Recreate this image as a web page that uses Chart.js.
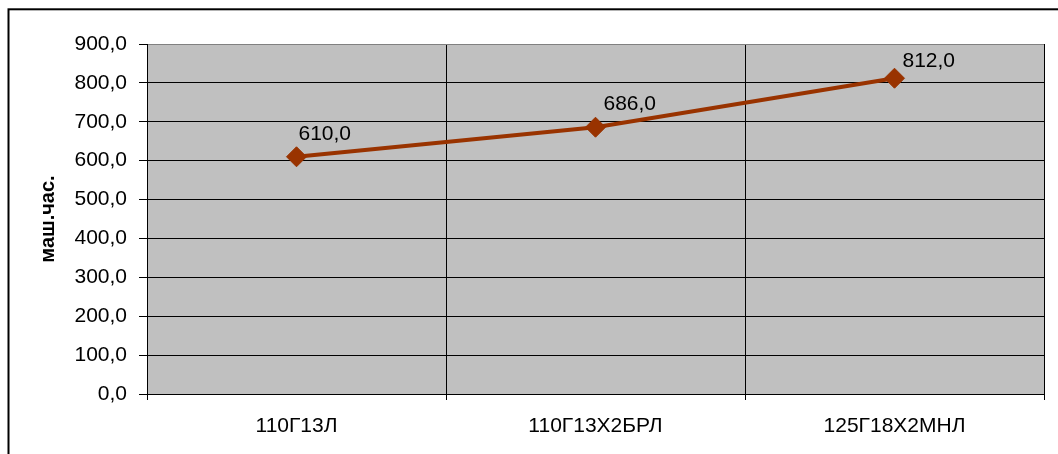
<!DOCTYPE html>
<html>
<head>
<meta charset="utf-8">
<script src="https://cdn.jsdelivr.net/npm/chart.js@4/dist/chart.umd.min.js"></script>
<style>
  html, body { margin: 0; padding: 0; background: #ffffff; }
  #wrap { width: 1058px; height: 454px; position: relative; }
</style>
</head>
<body>
<div id="wrap"><canvas id="c" width="1058" height="454"></canvas></div>
<script>
// Machine-hours per steel grade
const categories = ['110Г13Л', '110Г13Х2БРЛ', '125Г18Х2МНЛ'];
const hours = [610.0, 686.0, 812.0];
const yTicks = [0, 100, 200, 300, 400, 500, 600, 700, 800, 900];
const yTitle = 'маш.час.';

const FONT = '"Liberation Sans", Arial, sans-serif';
const fmt = v => Number(v).toFixed(1).replace('.', ',');

// Grey plot area and the outer frame
const backdrop = {
  id: 'backdrop',
  beforeDraw(chart) {
    const { ctx, chartArea: a } = chart;
    ctx.save();
    ctx.fillStyle = '#ffffff';
    ctx.fillRect(0, 0, chart.width, chart.height);
    ctx.fillStyle = '#c0c0c0';
    ctx.fillRect(a.left, a.top, a.right - a.left, a.bottom - a.top);
    ctx.strokeStyle = '#000000';
    ctx.lineWidth = 2;
    ctx.strokeRect(8.5, 9.3, chart.width + 20, chart.height + 20);
    ctx.restore();
  }
};

// Value labels next to each marker
const valueLabels = {
  id: 'valueLabels',
  afterDatasetsDraw(chart, args, opts) {
    const { ctx } = chart;
    const meta = chart.getDatasetMeta(0);
    ctx.save();
    ctx.font = '21px ' + FONT;
    ctx.fillStyle = '#000000';
    ctx.textAlign = 'left';
    ctx.textBaseline = 'middle';
    meta.data.forEach((pt, i) => {
      const off = opts.offsets[i] || [6, -20];
      ctx.fillText(fmt(chart.data.datasets[0].data[i]), pt.x + off[0], pt.y + off[1]);
    });
    ctx.restore();
  }
};

new Chart(document.getElementById('c'), {
  type: 'line',
  data: {
    labels: categories,
    datasets: [{
      data: hours,
      borderColor: '#993300',
      backgroundColor: '#993300',
      borderWidth: 4,
      pointStyle: 'rectRot',
      pointRadius: 10,
      pointHoverRadius: 10,
      pointBorderWidth: 1,
      pointBackgroundColor: '#993300',
      pointBorderColor: '#993300',
      tension: 0,
      fill: false
    }]
  },
  options: {
    responsive: false,
    animation: false,
    events: [],
    layout: { padding: { left: 0, right: 14, top: 44, bottom: 0 } },
    plugins: {
      legend: { display: false },
      tooltip: { enabled: false },
      valueLabels: { offsets: [[2, -23], [8, -23], [8, -17]] }
    },
    scales: {
      x: {
        type: 'category',
        offset: true,
        grid: {
          offset: true,
          drawOnChartArea: true,
          color: ctx => (ctx.index === categories.length ? '#808080' : '#000000'),
          tickColor: '#000000',
          tickLength: 6,
          lineWidth: 1
        },
        border: { color: '#000000', width: 1 },
        ticks: {
          color: '#000000',
          font: { family: FONT, size: 21 },
          padding: 14,
          maxRotation: 0,
          autoSkip: false
        },
        afterFit(scale) { scale.height = 60; }
      },
      y: {
        min: 0,
        max: 900,
        afterBuildTicks(scale) { scale.ticks = yTicks.map(v => ({ value: v })); },
        grid: {
          color: ctx => (ctx.tick && ctx.tick.value === 900 ? '#808080' : '#000000'),
          tickColor: '#000000',
          tickLength: 8,
          lineWidth: 1
        },
        border: { color: '#000000', width: 1 },
        ticks: {
          color: '#000000',
          font: { family: FONT, size: 21 },
          padding: 12,
          callback: v => fmt(v)
        },
        title: {
          display: true,
          text: yTitle,
          color: '#000000',
          font: { family: FONT, size: 20, weight: 'bold' },
          padding: { top: 36, bottom: 0 }
        },
        afterFit(scale) { scale.width = 147; }
      }
    }
  },
  plugins: [backdrop, valueLabels]
});
</script>
</body>
</html>
